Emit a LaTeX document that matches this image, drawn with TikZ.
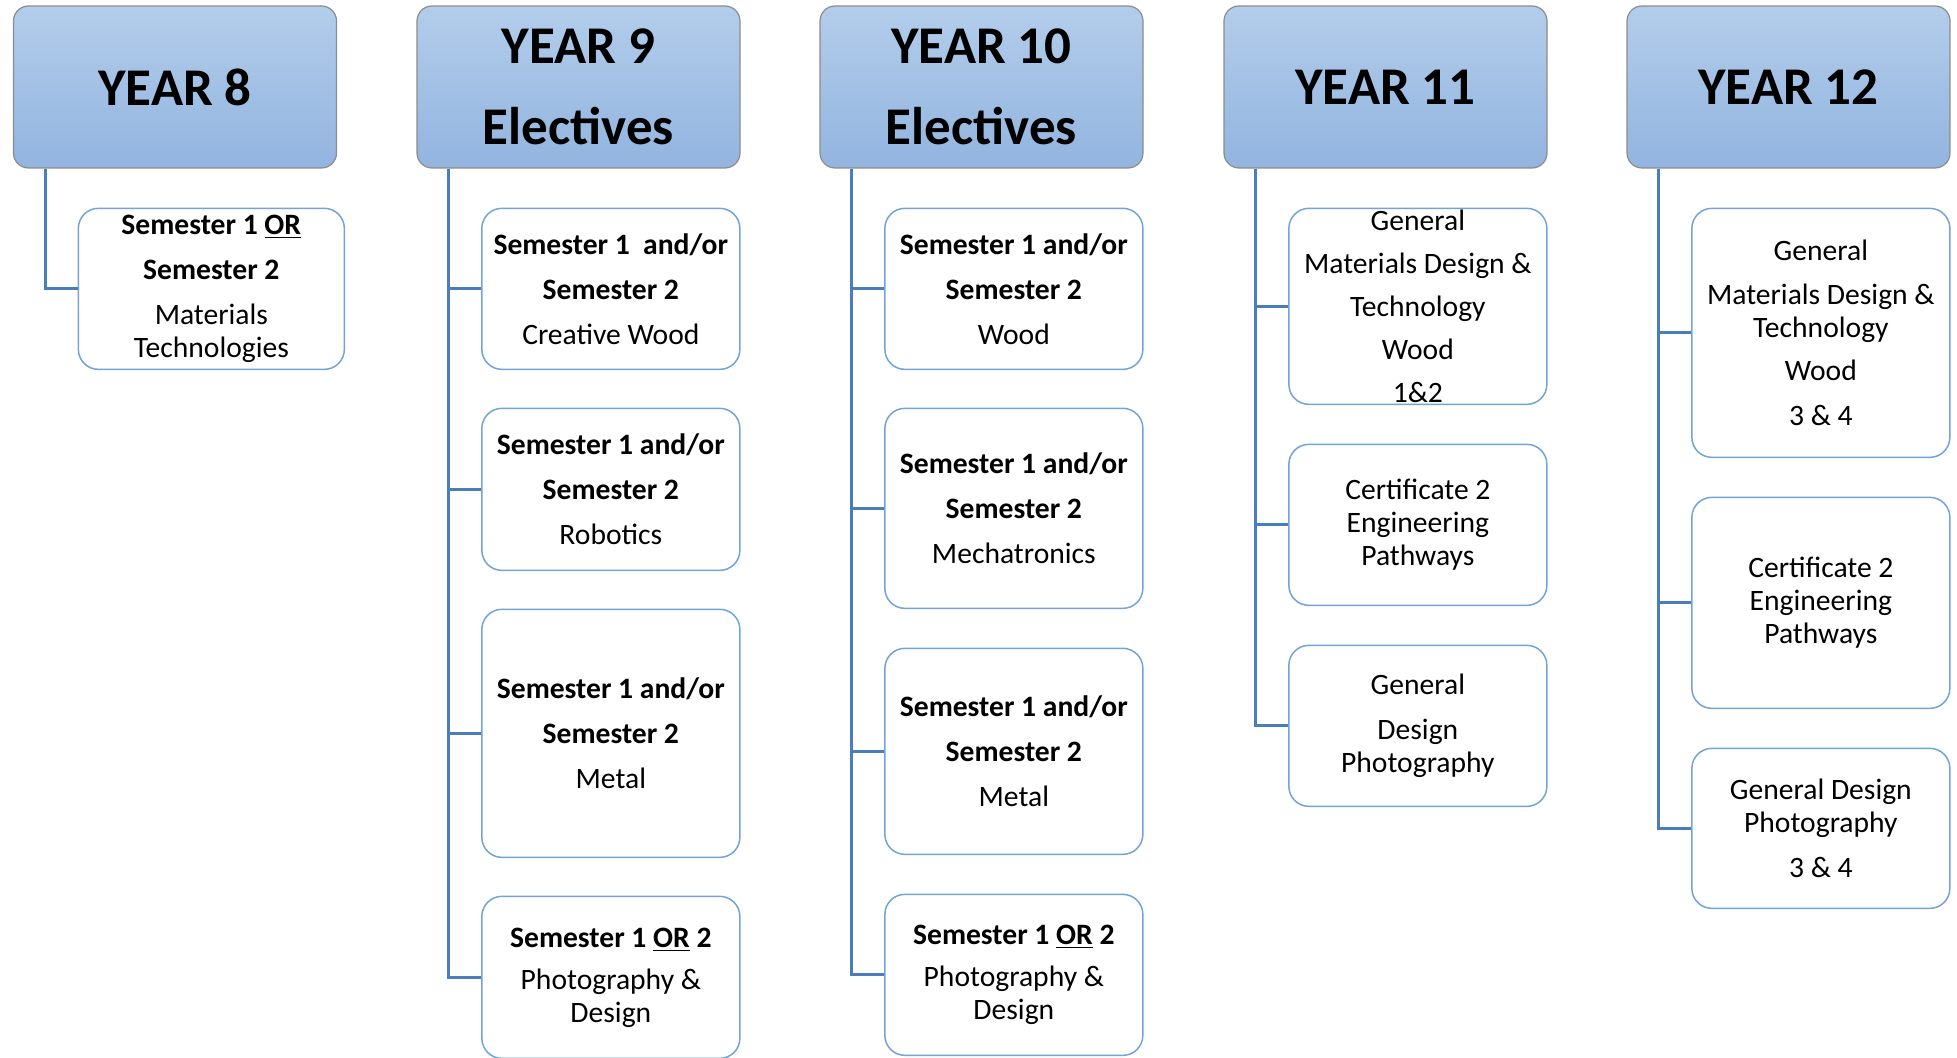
\documentclass[tikz,border=0pt]{standalone}
\usepackage{fontspec}
\setmainfont{Carlito}
\usetikzlibrary{positioning,calc}
\definecolor{hdrtop}{HTML}{B3CDEB}
\definecolor{hdrbot}{HTML}{92B4DF}
\definecolor{hdrline}{HTML}{8C8C8C}
\definecolor{optline}{HTML}{72A3D9}
\definecolor{trunk}{HTML}{4A7EBB}

\begin{document}
\begin{tikzpicture}[x=0.5pt, y=-0.5pt,
  node distance=18.75pt,
  year/.style={draw=hdrline, line width=0.6pt, rounded corners=7.5pt,
               top color=hdrtop, bottom color=hdrbot, align=center,
               minimum width=161.5pt, minimum height=81pt,
               font=\fontsize{26.5}{40.5}\selectfont\bfseries},
  opt/.style={draw=optline, line width=0.75pt, fill=white, rounded corners=10pt,
              align=center, minimum width=129pt, inner ysep=0pt,
              font=\fontsize{14.8}{16.5}\selectfont},
  link/.style={draw=trunk, line width=1.5pt}]
  \useasboundingbox (0,0) rectangle (1957,1058);
  \clip (0,0) rectangle (1957,1058);

  % year headers
  \node[year] (y8)  at (175,87)    {YEAR 8};
  \node[year] (y9)  at (578.5,87)  {YEAR 9\\Electives};
  \node[year] (y10) at (981.5,87)  {YEAR 10\\Electives};
  \node[year] (y11) at (1385.5,87) {YEAR 11};
  \node[year] (y12) at (1788.5,87) {YEAR 12};

  % year 8
  \node[opt, minimum width=133pt, minimum height=80.5pt, below left=19.5pt and -4pt of y8.south east] (y8a)
    {\textbf{Semester 1 \underline{OR}}\\[6pt]\textbf{Semester 2}\\[6pt]Materials\\Technologies};

  % year 9
  \node[opt, minimum height=80.5pt, below left=19.5pt and 0pt of y9.south east] (y9a)
    {\textbf{Semester 1\ \ and/or}\\[6pt]\textbf{Semester 2}\\[6pt]Creative Wood};
  \node[opt, minimum height=81pt, below=of y9a] (y9b)
    {\textbf{Semester 1 and/or}\\[6pt]\textbf{Semester 2}\\[6pt]Robotics};
  \node[opt, minimum height=124pt, below=of y9b] (y9c)
    {\textbf{Semester 1 and/or}\\[6pt]\textbf{Semester 2}\\[6pt]Metal};
  \node[opt, minimum height=81pt, below=of y9c] (y9d)
    {\textbf{Semester 1 \underline{OR} 2}\\[4.5pt]Photography \&\\Design};

  % year 10
  \node[opt, minimum height=80.5pt, below left=19.5pt and 0pt of y10.south east] (y10a)
    {\textbf{Semester 1 and/or}\\[6pt]\textbf{Semester 2}\\[6pt]Wood};
  \node[opt, minimum height=100pt, below=of y10a] (y10b)
    {\textbf{Semester 1 and/or}\\[6pt]\textbf{Semester 2}\\[6pt]Mechatronics};
  \node[opt, minimum height=103pt, below=19.25pt of y10b] (y10c)
    {\textbf{Semester 1 and/or}\\[6pt]\textbf{Semester 2}\\[6pt]Metal};
  \node[opt, minimum height=80.5pt, below=19.25pt of y10c] (y10d)
    {\textbf{Semester 1 \underline{OR} 2}\\[4.5pt]Photography \&\\Design};

  % year 11
  \node[opt, minimum height=98pt, below left=19.5pt and 0pt of y11.south east] (y11a)
    {General\\[5pt]Materials Design \&\\[5pt]Technology\\[5pt]Wood\\[5pt]1\&2};
  \node[opt, minimum height=80.5pt, below=19.25pt of y11a] (y11b)
    {Certificate 2\\Engineering\\Pathways};
  \node[opt, minimum height=80.5pt, below=19.25pt of y11b] (y11c)
    {General\\[6pt]Design\\Photography};

  % year 12
  \node[opt, minimum height=124.5pt, below left=19.5pt and 0pt of y12.south east] (y12a)
    {General\\[5.5pt]Materials Design \&\\Technology\\[5pt]Wood\\[6pt]3 \& 4};
  \node[opt, minimum height=105.5pt, below=19.25pt of y12a] (y12b)
    {Certificate 2\\Engineering\\Pathways};
  \node[opt, minimum height=80pt, below=19.25pt of y12b] (y12c)
    {General Design\\Photography\\[6pt]3 \& 4};

  % connectors
  \foreach \h/\kids in {y8/{y8a}, y9/{y9a,y9b,y9c,y9d}, y10/{y10a,y10b,y10c,y10d},
                        y11/{y11a,y11b,y11c}, y12/{y12a,y12b,y12c}}
    \foreach \k in \kids
      \draw[link] ($(\h.south west)+(32.5,0)$) |- (\k.west);
\end{tikzpicture}
\end{document}
